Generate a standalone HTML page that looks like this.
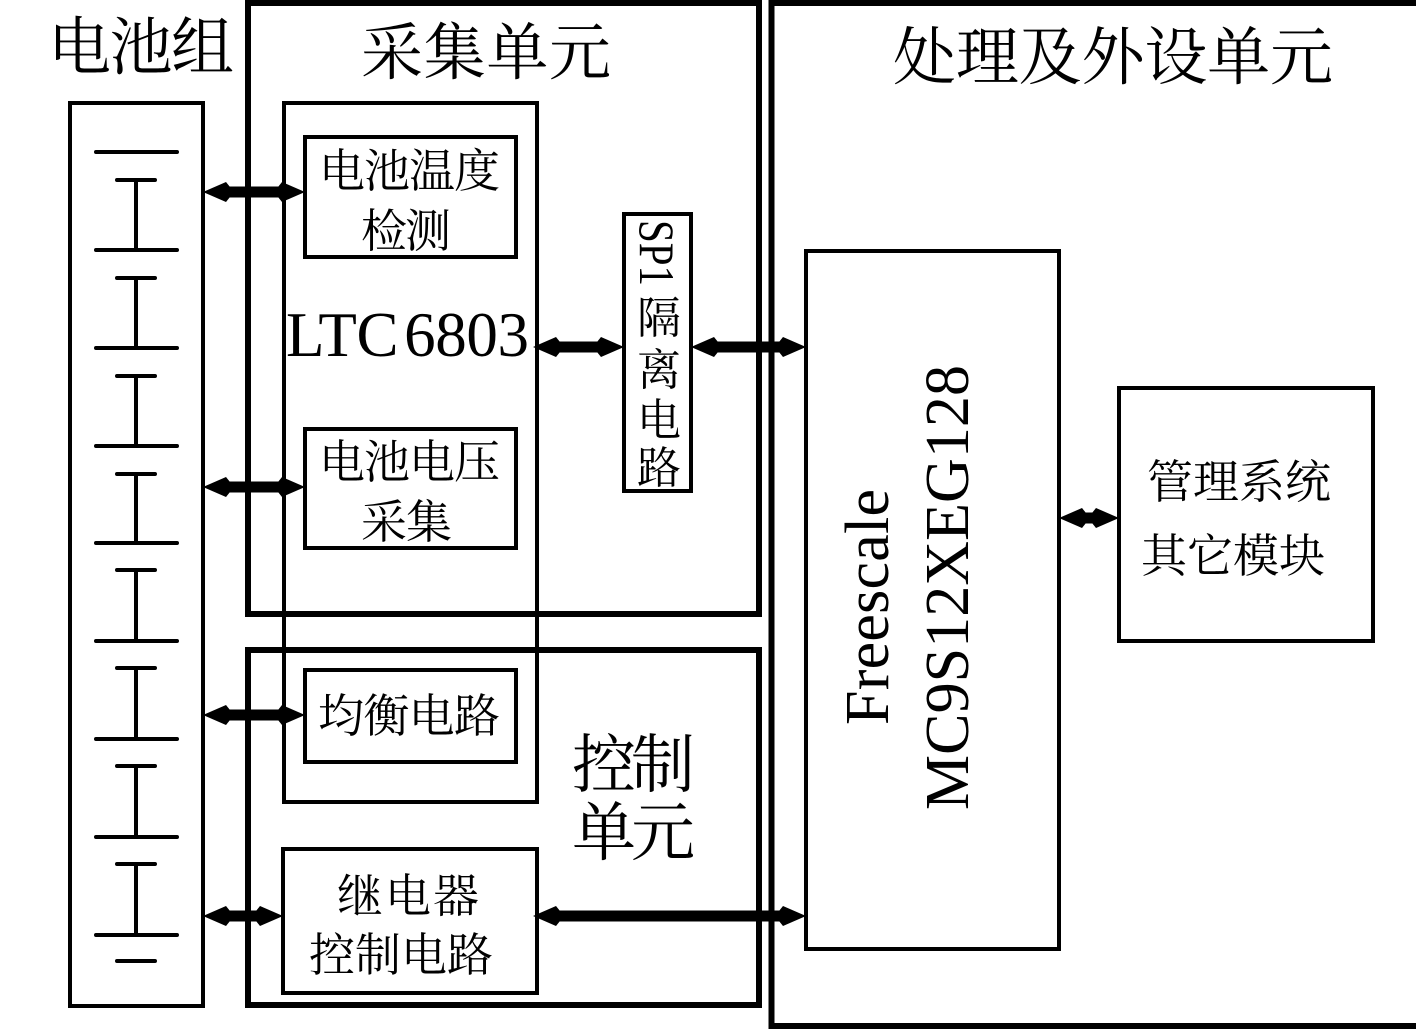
<!DOCTYPE html>
<html><head><meta charset="utf-8"><style>
html,body{margin:0;padding:0;background:#fff}
svg{display:block}
text{font-family:"Liberation Serif","Noto Serif CJK SC",serif;fill:#000}
</style></head><body>
<svg width="1416" height="1030" viewBox="0 0 1416 1030" xmlns="http://www.w3.org/2000/svg">
<defs>
<g id="ah"><path d="M0 0 L23 -10 L27 -5 L27 5 L23 10 Z" fill="#000"/></g>
</defs>
<g fill="none" stroke="#000">
<rect x="248" y="3" width="511" height="611" stroke-width="6"/>
<rect x="248" y="650" width="511" height="355" stroke-width="6"/>
<rect x="771.500" y="3" width="650" height="1023" stroke-width="6"/>
<g stroke-width="4">
<rect x="70" y="103" width="133" height="903"/>
<rect x="284" y="103" width="253" height="699"/>
<rect x="305" y="137" width="211" height="120"/>
<rect x="305" y="429" width="211" height="119"/>
<rect x="305" y="670" width="211" height="92"/>
<rect x="283" y="849" width="254" height="144"/>
<rect x="624" y="214" width="67" height="277"/>
<rect x="806" y="251" width="253" height="698"/>
<rect x="1119" y="388" width="254" height="253"/>
</g>
<g stroke-width="4" stroke-linecap="round">
<path d="M96 152H177M117 180H155M136 180V250M96 250H177"/>
<path d="M117 278H155M136 278V348M96 348H177"/>
<path d="M117 376H155M136 376V446M96 446H177"/>
<path d="M117 474H155M136 474V543M96 543H177"/>
<path d="M117 570H155M136 570V641M96 641H177"/>
<path d="M117 668H155M136 668V739M96 739H177"/>
<path d="M117 766H155M136 766V837M96 837H177"/>
<path d="M117 864H155M136 864V935M96 935H177"/>
<path d="M117 961H155"/>
</g>
</g>
<g stroke="#000" stroke-width="11">
<path d="M225 192H285M225 487H285M225 715H285M225 916H263M555 347H605M712 347H785M1080 518H1100M555 916H785"/>
</g>
<g>
<use href="#ah" x="203" y="192"/><use href="#ah" transform="translate(305 192) scale(-1 1)"/>
<use href="#ah" x="203" y="487"/><use href="#ah" transform="translate(305 487) scale(-1 1)"/>
<use href="#ah" x="203" y="715"/><use href="#ah" transform="translate(305 715) scale(-1 1)"/>
<use href="#ah" x="203" y="916"/><use href="#ah" transform="translate(283 916) scale(-1 1)"/>
<use href="#ah" x="533" y="347"/><use href="#ah" transform="translate(624 347) scale(-1 1)"/>
<use href="#ah" x="691" y="347"/><use href="#ah" transform="translate(806 347) scale(-1 1)"/>
<use href="#ah" x="1059" y="518"/><use href="#ah" transform="translate(1119 518) scale(-1 1)"/>
<use href="#ah" x="533" y="916"/><use href="#ah" transform="translate(806 916) scale(-1 1)"/>
</g>
<text x="48" y="69" font-size="63" textLength="186" lengthAdjust="spacing">电池组</text>
<text x="361" y="74" font-size="62" textLength="250" lengthAdjust="spacing">采集单元</text>
<text x="893" y="79" font-size="63" textLength="440" lengthAdjust="spacing">处理及外设单元</text>
<text x="319" y="187" font-size="46" textLength="181" lengthAdjust="spacing">电池温度</text>
<text x="361" y="247" font-size="46" textLength="90" lengthAdjust="spacing">检测</text>
<text x="286" y="356" font-size="63" textLength="243" lengthAdjust="spacing"><tspan>LTC</tspan><tspan dx="6">6803</tspan></text>
<text x="319" y="478" font-size="46" textLength="181" lengthAdjust="spacing">电池电压</text>
<text x="361" y="538" font-size="46" textLength="91" lengthAdjust="spacing">采集</text>
<text x="318" y="732" font-size="46" textLength="182" lengthAdjust="spacing">均衡电路</text>
<text x="572" y="787" font-size="64" textLength="123" lengthAdjust="spacing">控制</text>
<text x="572" y="855" font-size="64" textLength="123" lengthAdjust="spacing">单元</text>
<text x="337" y="912" font-size="46" textLength="142" lengthAdjust="spacing">继电器</text>
<text x="309" y="971" font-size="46" textLength="184" lengthAdjust="spacing">控制电路</text>
<text x="1147" y="498" font-size="46" textLength="184" lengthAdjust="spacing">管理系统</text>
<text x="1141" y="572" font-size="46" textLength="184" lengthAdjust="spacing">其它模块</text>
<text transform="translate(640 220) rotate(90)" font-size="50" textLength="66" lengthAdjust="spacingAndGlyphs">SP1</text>
<text x="637" y="333" font-size="44">隔</text>
<text x="637" y="385" font-size="44">离</text>
<text x="637" y="435" font-size="44">电</text>
<text x="637" y="483" font-size="44">路</text>
<text transform="translate(888 725) rotate(-90)" font-size="62" textLength="236" lengthAdjust="spacing">Freescale</text>
<text transform="translate(968 810) rotate(-90)" font-size="62" textLength="445" lengthAdjust="spacing">MC9S12XEG128</text>
</svg>
</body></html>
